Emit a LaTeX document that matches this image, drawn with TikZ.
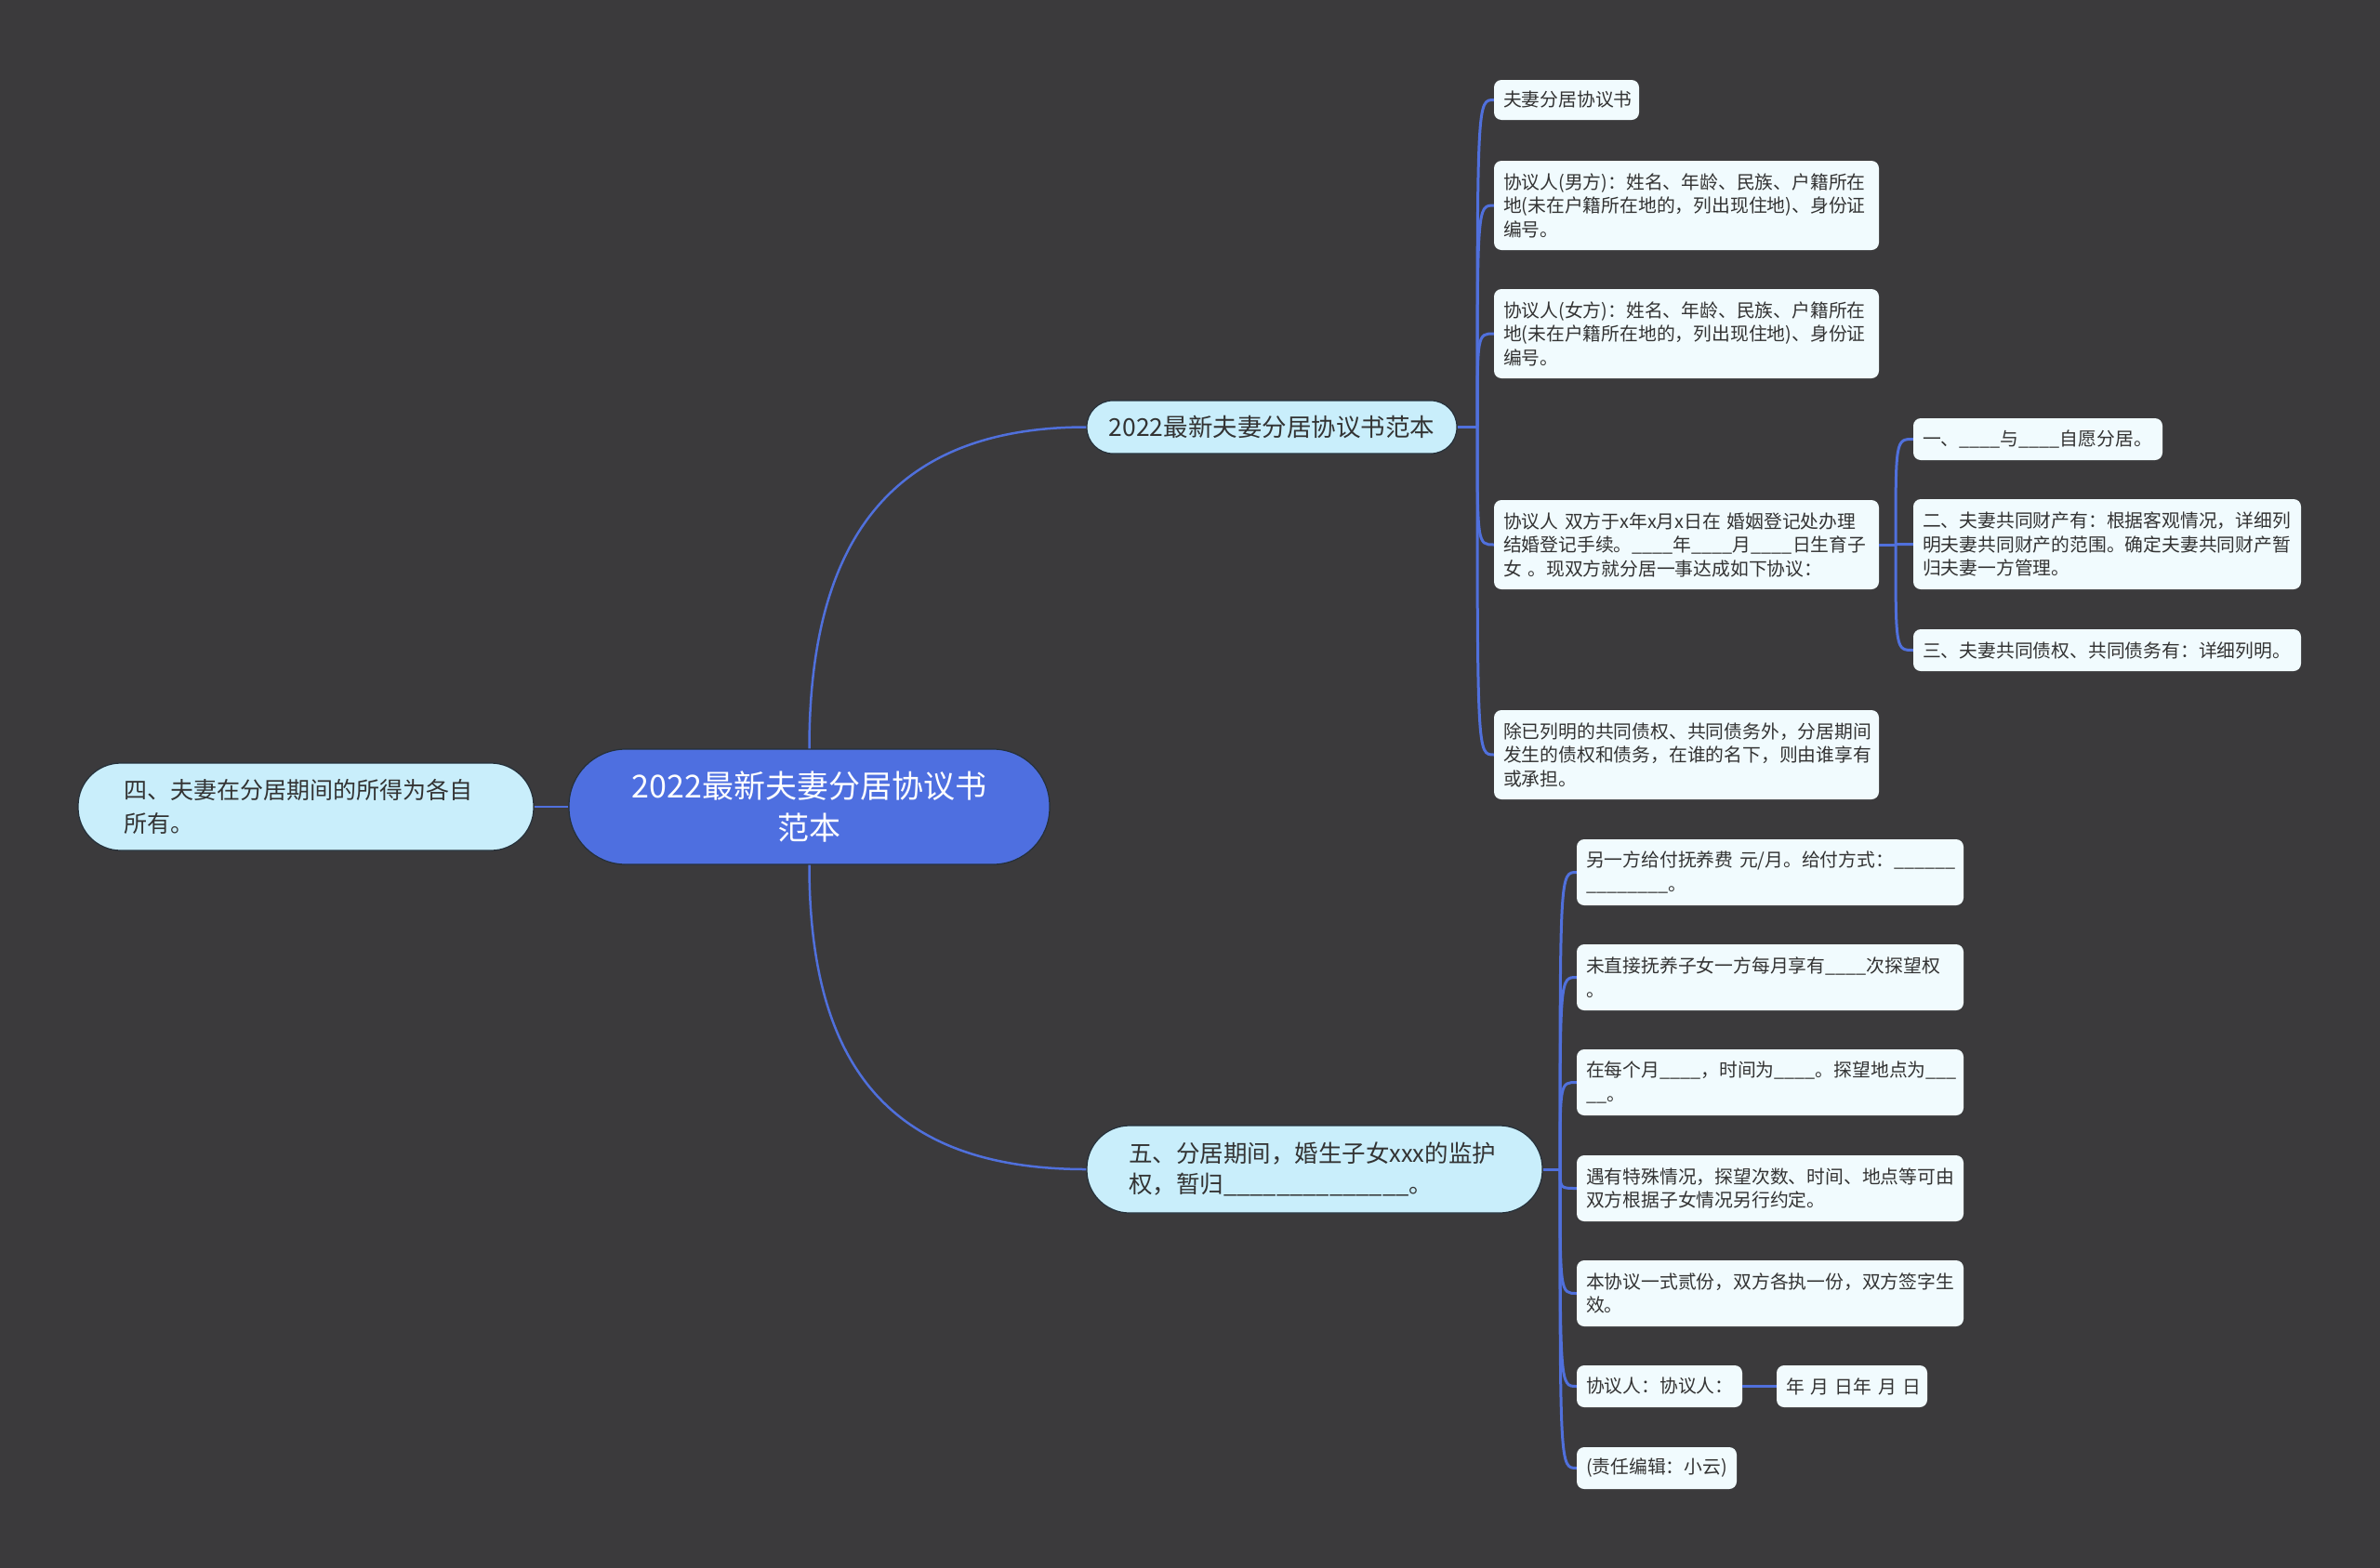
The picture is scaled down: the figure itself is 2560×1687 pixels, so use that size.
\documentclass[tikz,border=0pt]{standalone}
\usepackage{fontspec}
\setmainfont{Noto Sans CJK SC}
\definecolor{bg}{HTML}{3B3A3C}
\definecolor{cen}{HTML}{4E6FE0}
\definecolor{brf}{HTML}{C9EEFB}
\definecolor{lff}{HTML}{F1FBFE}
\definecolor{lnc}{HTML}{5070DC}
\definecolor{txc}{HTML}{333333}
\definecolor{bdr}{HTML}{25303A}
\tikzset{
  conn/.style={draw=lnc, line width=3pt},
  mainconn/.style={draw=lnc, line width=2.5pt},
  leafbox/.style={fill=lff, rounded corners=8pt, text=txc, align=left,
    inner xsep=10pt, inner ysep=0pt, anchor=center,
    font=\fontsize{19.8pt}{25.5pt}\selectfont},
  branchbox/.style={fill=brf, draw=bdr, line width=1.2pt, text=txc, inner ysep=0pt, anchor=center},
  centbox/.style={fill=cen, draw=bdr, line width=1.2pt, text=white, align=center, inner sep=0pt,
    font=\fontsize{34pt}{45pt}\selectfont},
}
\newcommand\leafnode[6]{\node[leafbox, text width=#4pt, minimum height=#5pt] (#1) at (#2,#3) {#6};}
\begin{document}
\begin{tikzpicture}[x=1pt,y=-1pt]
\fill[bg] (0,0) rectangle (2560,1687);
\useasboundingbox (0,0) rectangle (2560,1687);

% central and branch nodes
\node[centbox, minimum width=517pt, minimum height=124pt, rounded corners=61pt] (c) at (870.5,868) {2022最新夫妻分居协议书\\范本};
\node[branchbox, minimum width=490pt, minimum height=94pt, rounded corners=46pt, align=left,
  text width=392pt, inner xsep=49pt, font=\fontsize{25pt}{36pt}\selectfont] (four) at (329,868) {四、夫妻在分居期间的所得为各自\\所有。};
\node[branchbox, minimum width=398pt, minimum height=57pt, rounded corners=28pt, align=center,
  inner xsep=0pt, font=\fontsize{26.5pt}{33pt}\selectfont] (b1) at (1368,459.5) {2022最新夫妻分居协议书范本};
\node[branchbox, minimum width=490pt, minimum height=94pt, rounded corners=46pt, align=left,
  text width=400pt, inner xsep=45pt, font=\fontsize{25.5pt}{33pt}\selectfont] (b2) at (1414,1258) {五、分居期间，婚生子女xxx的监护\\权，暂归\_\_\_\_\_\_\_\_\_\_\_\_\_\_。};

% leaves of branch 1
\leafnode{L1}{1685}{107.5}{136}{43}{夫妻分居协议书}
\leafnode{L2}{1814}{221}{394}{96}{协议人(男方)：姓名、年龄、民族、户籍所在\\地(未在户籍所在地的，列出现住地)、身份证\\编号。}
\leafnode{L3}{1814}{359}{394}{96}{协议人(女方)：姓名、年龄、民族、户籍所在\\地(未在户籍所在地的，列出现住地)、身份证\\编号。}
\leafnode{L4}{1814}{586}{394}{96}{协议人~双方于x年x月x日在~婚姻登记处办理\\结婚登记手续。\_\_\_\_年\_\_\_\_月\_\_\_\_日生育子\\女~。现双方就分居一事达成如下协议：}
\leafnode{L5}{1814}{812}{394}{96}{除已列明的共同债权、共同债务外，分居期间\\发生的债权和债务，在谁的名下，则由谁享有\\或承担。}

% sub-leaves
\leafnode{S1}{2192}{472.5}{248}{45}{一、\_\_\_\_与\_\_\_\_自愿分居。}
\leafnode{S2}{2266.5}{585.5}{397}{97}{二、夫妻共同财产有：根据客观情况，详细列\\明夫妻共同财产的范围。确定夫妻共同财产暂\\归夫妻一方管理。}
\leafnode{S3}{2266.5}{699.5}{397}{45}{三、夫妻共同债权、共同债务有：详细列明。}

% leaves of branch 2
\leafnode{M1}{1904}{938.5}{396}{71}{另一方给付抚养费~元/月。给付方式：\_\_\_\_\_\_\\\_\_\_\_\_\_\_\_。}
\leafnode{M2}{1904}{1051.5}{396}{71}{未直接抚养子女一方每月享有\_\_\_\_次探望权\\。}
\leafnode{M3}{1904}{1164.5}{396}{71}{在每个月\_\_\_\_，时间为\_\_\_\_。探望地点为\_\_\_\\\_\_。}
\leafnode{M4}{1904}{1278.5}{396}{71}{遇有特殊情况，探望次数、时间、地点等可由\\双方根据子女情况另行约定。}
\leafnode{M5}{1904}{1391.5}{396}{71}{本协议一式贰份，双方各执一份，双方签字生\\效。}
\leafnode{M6}{1785}{1491.5}{158}{45}{协议人：协议人：}
\leafnode{M7}{1992}{1491.5}{142}{45}{年~月~日年~月~日}
\leafnode{M8}{1782}{1579.5}{152}{45}{(责任编辑：小云)}

% main connectors
\draw[mainconn] (c.north) .. controls (870.5,580) and (960,459.5) .. (b1.west);
\draw[mainconn] (c.south) .. controls (870.5,1150) and (960,1258) .. (b2.west);
\draw[mainconn] (c.west) -- (four.east);

% branch 1 spine
\coordinate (s1) at (1589,459.5);
\draw[conn] (b1.east) -- (s1);
\foreach \n in {L1,L2,L3,L4,L5}
  \draw[conn] (s1) .. controls (s1 |- \n.west) .. (\n.west);

% L4 spine
\coordinate (s2) at (2039,586);
\draw[conn] (L4.east) -- (s2);
\foreach \n in {S1,S2,S3}
  \draw[conn] (s2) .. controls (s2 |- \n.west) .. (\n.west);

% branch 2 spine
\coordinate (s3) at (1678,1258);
\draw[conn] (b2.east) -- (s3);
\foreach \n in {M1,M2,M3,M4,M5,M6,M8}
  \draw[conn] (s3) .. controls (s3 |- \n.west) .. (\n.west);
\draw[conn] (M6.east) -- (M7.west);
\end{tikzpicture}
\end{document}
